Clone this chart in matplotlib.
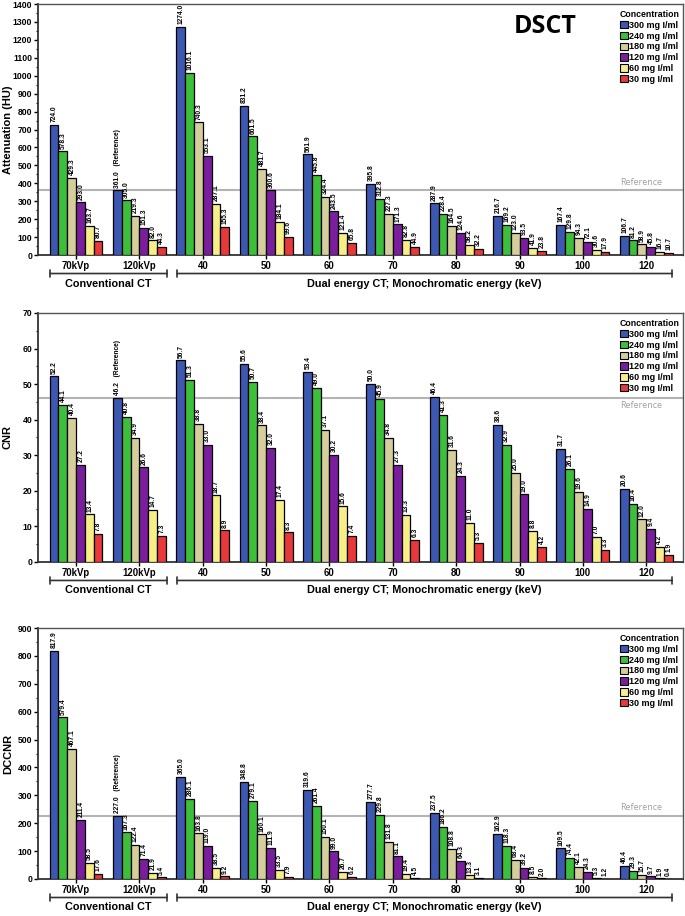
import numpy as np
import matplotlib as mpl
mpl.use('Agg')
import matplotlib.pyplot as plt
from matplotlib.patches import Patch
from matplotlib.ticker import MultipleLocator

mpl.rcParams['font.family'] = ['Liberation Sans', 'DejaVu Sans']
mpl.rcParams['font.weight'] = 'bold'

## categories
groups = ['70kVp', '120kVp', '40', '50', '60', '70', '80', '90', '100', '120']
concs = ['300 mg I/ml', '240 mg I/ml', '180 mg I/ml', '120 mg I/ml', '60 mg I/ml', '30 mg I/ml']
colors = ['#3d58b0', '#3cbf3a', '#d6cd9c', '#7a1e9e', '#f8ee88', '#e8383a']

## Attenuation (HU)
att_300 = [724.0, 361.0, 1274.0, 831.2, 561.9, 395.8, 287.9, 216.7, 167.4, 106.7]
att_240 = [578.3, 305.0, 1016.1, 661.5, 445.8, 312.8, 228.4, 169.2, 129.8, 81.2]
att_180 = [429.3, 219.3, 740.3, 481.7, 324.4, 227.3, 164.5, 123.0, 94.3, 58.9]
att_120 = [293.0, 151.3, 553.1, 360.6, 243.5, 171.3, 124.6, 93.5, 72.1, 45.8]
att_60 = [163.7, 82.0, 287.1, 184.1, 121.4, 82.8, 58.2, 41.9, 30.6, 16.7]
att_30 = [80.7, 44.3, 155.3, 99.6, 65.8, 44.9, 32.2, 23.8, 17.9, 10.7]

## CNR
cnr_300 = [52.2, 46.2, 56.7, 55.6, 53.4, 50.0, 46.4, 38.6, 31.7, 20.6]
cnr_240 = [44.1, 40.8, 51.3, 50.7, 49.0, 45.9, 41.3, 32.9, 26.1, 16.4]
cnr_180 = [40.4, 34.9, 38.8, 38.4, 37.1, 34.8, 31.6, 25.0, 19.6, 12.0]
cnr_120 = [27.2, 26.6, 33.0, 32.0, 30.2, 27.3, 24.3, 19.0, 14.9, 9.4]
cnr_60 = [13.4, 14.7, 18.7, 17.4, 15.6, 13.3, 11.0, 8.8, 7.0, 4.2]
cnr_30 = [7.8, 7.3, 8.9, 8.3, 7.4, 6.3, 5.3, 4.2, 3.3, 1.9]

## DCCNR
dc_300 = [817.9, 227.0, 365.0, 348.8, 319.6, 277.7, 237.5, 162.9, 109.5, 46.4]
dc_240 = [579.4, 167.3, 286.1, 279.1, 261.4, 229.8, 186.2, 118.3, 74.4, 29.3]
dc_180 = [467.1, 122.4, 163.8, 160.1, 150.1, 131.8, 108.8, 68.4, 42.1, 15.7]
dc_120 = [211.4, 71.4, 119.0, 111.9, 99.0, 81.1, 64.3, 39.2, 24.3, 9.7]
dc_60 = [58.5, 21.9, 38.5, 33.5, 26.7, 19.4, 13.3, 8.5, 5.3, 1.9]
dc_30 = [17.6, 5.4, 9.2, 7.9, 6.2, 4.5, 3.1, 2.0, 1.2, 0.4]

panels = [
    dict(series=[att_300, att_240, att_180, att_120, att_60, att_30], ylabel='Attenuation (HU)',
         ymax=1400, major=100, minor=50, box=[0.0555, 0.7216, 0.9416, 0.2740], ref_above=True),
    dict(series=[cnr_300, cnr_240, cnr_180, cnr_120, cnr_60, cnr_30], ylabel='CNR',
         ymax=70, major=10, minor=5, box=[0.0555, 0.3865, 0.9416, 0.2718], ref_above=False),
    dict(series=[dc_300, dc_240, dc_180, dc_120, dc_60, dc_30], ylabel='DCCNR',
         ymax=900, major=100, minor=50, box=[0.0555, 0.0404, 0.9416, 0.2740], ref_above=True),
]

fig = plt.figure(figsize=(6.85, 9.16), dpi=100)
x = np.arange(len(groups))
w = 0.139

for p in panels:
    ax = fig.add_axes(p['box'])
    ymax = p['ymax']
    for i, vals in enumerate(p['series']):
        pos = x + (i - 2.5) * w
        ax.bar(pos, vals, w, color=colors[i], edgecolor='black', linewidth=0.9, zorder=3)
        for j, v in enumerate(vals):
            txt = '%.1f' % v
            if i == 0 and j == 1:
                txt = txt + '   (Reference)'
            ax.annotate(txt, (pos[j], v), xytext=(0.3, 2), textcoords='offset points',
                        rotation=90, ha='center', va='bottom', fontsize=4.8,
                        fontweight='bold', zorder=4)
    ref = p['series'][0][1]
    ax.axhline(ref, color='#b4b4b4', linewidth=1.5, zorder=2)
    if p['ref_above']:
        ax.annotate('Reference', (8.92, ref), xytext=(0, 2.5), textcoords='offset points',
                    ha='center', va='bottom', fontsize=6.5, color='#a0a0a0',
                    fontweight='normal', family='Open Sans')
    else:
        ax.annotate('Reference', (8.92, ref), xytext=(0, -2.5), textcoords='offset points',
                    ha='center', va='top', fontsize=6.5, color='#a0a0a0',
                    fontweight='normal', family='Open Sans')

    ax.set_xlim(-0.6, 9.58)
    ax.set_ylim(0, ymax)
    ax.set_xticks(x)
    ax.set_xticklabels(groups, fontsize=6.9, fontweight='bold')
    ax.yaxis.set_major_locator(MultipleLocator(p['major']))
    ax.yaxis.set_minor_locator(MultipleLocator(p['minor']))
    for lab in ax.get_yticklabels():
        lab.set_fontweight('bold')
        lab.set_fontsize(6.2)
    ax.tick_params(axis='both', which='major', length=3, width=1, pad=1.2)
    ax.tick_params(axis='y', which='minor', length=1.8, width=0.8)
    ax.set_ylabel(p['ylabel'], fontsize=8, fontweight='bold')
    ax.yaxis.set_label_coords(-0.039, 0.5)
    for s in ['left', 'bottom']:
        ax.spines[s].set_linewidth(1.3)
        ax.spines[s].set_color('#333333')
    for s in ['top', 'right']:
        ax.spines[s].set_linewidth(1.0)
        ax.spines[s].set_color('#555555')

    # group brackets under the axis
    h = p['box'][3] * 916
    yb = -18.5 / h
    yl = -28.5 / h
    tr = ax.get_xaxis_transform()
    for x0, x1, lab in [(-0.41, 1.437, 'Conventional CT'),
                        (1.595, 9.41, 'Dual energy CT; Monochromatic energy (keV)')]:
        ax.annotate('', xy=(x0, yb), xytext=(x1, yb), xycoords=tr, textcoords=tr,
                    arrowprops=dict(arrowstyle='|-|, widthA=0.25, widthB=0.25',
                                    color='#333333', linewidth=1.2, shrinkA=0, shrinkB=0),
                    annotation_clip=False)
        ax.text((x0 + x1) / 2, yl, lab, transform=tr, ha='center', va='center',
                fontsize=7.8, fontweight='bold')

    handles = [Patch(facecolor=colors[i], edgecolor='black', linewidth=0.8, label=concs[i])
               for i in range(6)]
    leg = ax.legend(handles=handles, title='Concentration', loc='upper right',
                    bbox_to_anchor=(1.005, 1.005), frameon=False, fontsize=6.5,
                    title_fontsize=6.3, handlelength=0.9, handleheight=0.9,
                    handletextpad=0.2, labelspacing=0.2, borderpad=0.3)
    leg.get_title().set_fontweight('bold')
    for t in leg.get_texts():
        t.set_fontweight('bold')

    if p['ylabel'].startswith('Atten'):
        ax.text(0.786, 0.91, 'DSCT', transform=ax.transAxes, ha='center', va='center',
                fontsize=18, fontweight='bold', family='Open Sans')

fig.savefig('out.png', dpi=100)
